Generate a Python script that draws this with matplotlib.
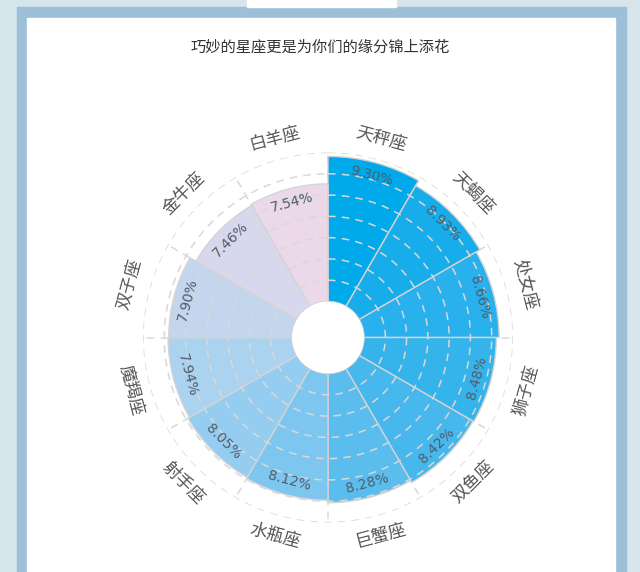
"""
Polar bar chart: share of each zodiac sign.
"""

import numpy as np
import matplotlib
matplotlib.use("Agg")
import matplotlib.pyplot as plt
from matplotlib.patches import Rectangle

plt.rcParams['font.family'] = ['Noto Sans CJK SC', 'DejaVu Sans']

# data, clockwise from the top
signs = ["天秤座", "天蝎座", "处女座", "狮子座", "双鱼座", "巨蟹座",
         "水瓶座", "射手座", "魔羯座", "双子座", "金牛座", "白羊座"]
shares = [9.30, 8.93, 8.66, 8.48, 8.42, 8.28, 8.12, 8.05, 7.94, 7.90, 7.46, 7.54]
colors = ["#00a9ea", "#17adeb", "#28b1ec", "#35b4ec", "#46b8ed", "#5abdee",
          "#7dc6ef", "#95cdf0", "#abd2ef", "#c4d6ee", "#d7d8ee", "#ebd9ea"]
title = "巧妙的星座更是为你们的缘分锦上添花"

W, H = 640, 572
fig = plt.figure(figsize=(W / 100, H / 100), dpi=100)


def px_rect(x0, y0, x1, y1, color):
    # rectangle given in pixel coords (origin top-left)
    fig.patches.append(Rectangle((x0 / W, 1 - y1 / H), (x1 - x0) / W, (y1 - y0) / H,
                                 transform=fig.transFigure, color=color, zorder=-5))


# page frame
px_rect(0, 0, W, H, "#d5e5eb")
px_rect(17, 7, 626, H, "#9dbfd7")
px_rect(27, 18, 615, H, "white")
px_rect(247, 0, 396, 7, "white")

fig.text(0.5, 1 - 47 / H, title, ha='center', va='center', fontsize=11, color='#333333')

# polar axes, centre at (328, 337.5) px, outer circle radius 185 px
cx, cy, rad = 328, 337.5, 185
ax = fig.add_axes([(cx - rad) / W, (H - cy - rad) / H, 2 * rad / W, 2 * rad / H],
                  projection='polar', zorder=2)
ax.set_facecolor('none')
ax.set_theta_zero_location('N')
ax.set_theta_direction(-1)

r_out = 9.55
hole = 2.31
ax.set_ylim(0, r_out)
ax.set_rorigin(-hole)
ax.axis('off')
ppu = rad / (r_out + hole)

n = len(signs)
width = 2 * np.pi / n
theta = np.arange(n) * width + width / 2

grid_kw = dict(color='#d8d8d8', lw=1.1, linestyle=(0, (5, 4)))

# spokes (under the bars)
for k in range(n):
    ax.plot([k * width, k * width], [0, r_out], zorder=1, **grid_kw)

ax.bar(theta, shares, width=width, bottom=0, color=colors,
       edgecolor='#d4d4d4', linewidth=1.0, zorder=2)

# circles (on top of the bars)
t = np.linspace(0, 2 * np.pi, 400)
for k in range(1, 8):
    ax.plot(t, np.full_like(t, r_out * k / 7), zorder=3, **grid_kw)


def tangent_rot(th):
    deg = np.degrees(th)
    rot = -deg
    if 90 < deg < 270:
        rot += 180
    return rot


label_r = 205 / ppu - hole
for th, name, val in zip(theta, signs, shares):
    rot = tangent_rot(th)
    ax.text(th, label_r, name, rotation=rot, rotation_mode='anchor',
            ha='center', va='center', fontsize=12.5, color='#555555', clip_on=False)
    ax.text(th, val - 14 / ppu, f"{val:.2f}%", rotation=rot, rotation_mode='anchor',
            ha='center', va='center', fontsize=10, color='#4f5d6b', zorder=4,
            family='DejaVu Sans')

fig.savefig("out.png", dpi=100)
